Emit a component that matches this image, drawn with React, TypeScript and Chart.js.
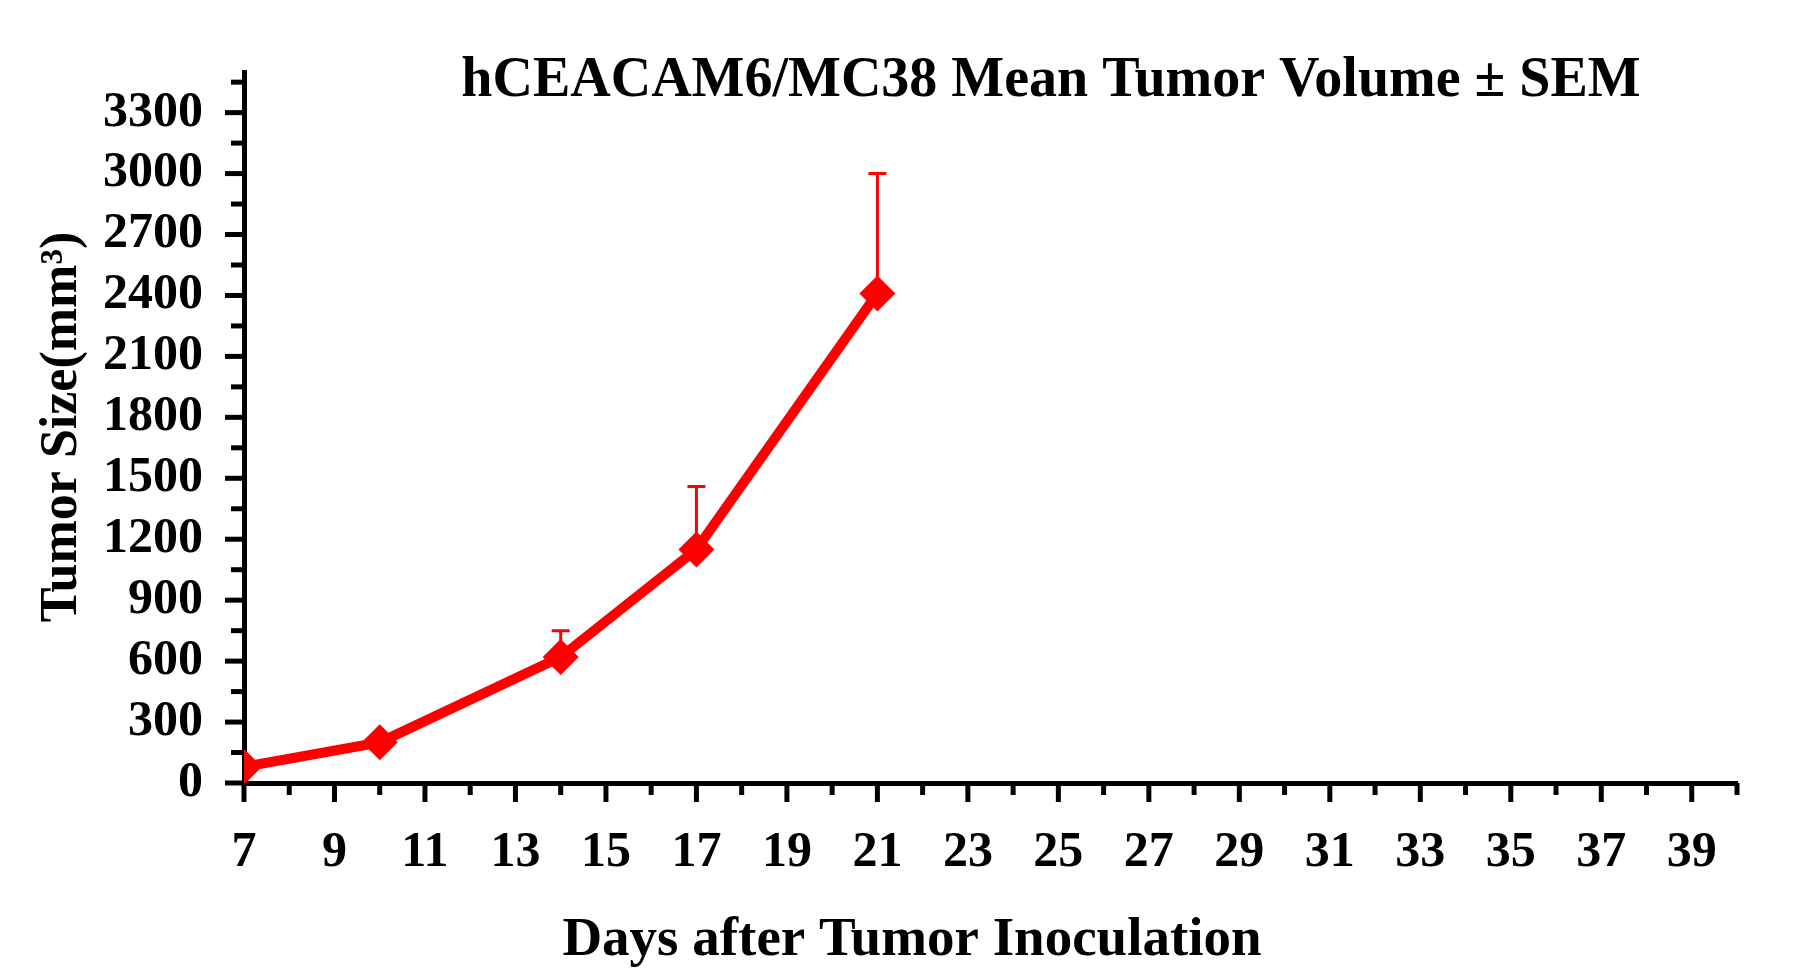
import React, { useEffect, useRef } from "react";
import { Chart, registerables } from "chart.js";
Chart.register(...registerables);

const days = [7, 10, 14, 17, 21];
const meanVolume = [80, 200, 620, 1150, 2410];
const upperError = [0, 0, 750, 1460, 3000];
const xTicks = [7, 9, 11, 13, 15, 17, 19, 21, 23, 25, 27, 29, 31, 33, 35, 37, 39];
const titleText = "hCEACAM6/MC38 Mean Tumor Volume \u00B1 SEM";
const xTitle = "Days after Tumor Inoculation";
const yTitle = "Tumor Size(mm\u00B3)";
const FONT = "'Liberation Serif', 'Times New Roman', serif";

export default function App() {
  const ref = useRef<HTMLCanvasElement>(null);
  useEffect(() => {
    const extras = {
      id: "extras",
      afterDatasetsDraw(chart: any) {
        const ctx = chart.ctx;
        const x = chart.scales.x, y = chart.scales.y;
        const ca = chart.chartArea;
        ctx.save();
        ctx.strokeStyle = "#ff0000";
        ctx.lineWidth = 3;
        days.forEach((d, i) => {
          if (!upperError[i]) return;
          const px = x.getPixelForValue(d);
          const y0 = y.getPixelForValue(meanVolume[i]);
          const y1 = y.getPixelForValue(upperError[i]);
          ctx.beginPath();
          ctx.moveTo(px, y0); ctx.lineTo(px, y1);
          ctx.moveTo(px - 9, y1); ctx.lineTo(px + 9, y1);
          ctx.stroke();
        });
        ctx.strokeStyle = "#000";
        ctx.lineWidth = 5;
        for (let v = 0; v <= 3500; v += 150) {
          const py = y.getPixelForValue(v);
          const major = v % 300 === 0;
          ctx.beginPath();
          ctx.moveTo(ca.left, py); ctx.lineTo(ca.left - (major ? 19 : 13), py);
          ctx.stroke();
        }
        for (let v = 7; v <= 40; v += 1) {
          const px = x.getPixelForValue(v);
          const major = (v - 7) % 2 === 0;
          ctx.beginPath();
          ctx.moveTo(px, ca.bottom); ctx.lineTo(px, ca.bottom + (major ? 19 : 12));
          ctx.stroke();
        }
        ctx.fillStyle = "#000";
        ctx.textAlign = "center";
        ctx.textBaseline = "middle";
        ctx.font = `bold 56px ${FONT}`;
        ctx.fillText(titleText, 1051, 82);
        ctx.font = `bold 55px ${FONT}`;
        ctx.fillText(xTitle, 912, 941);
        ctx.font = `bold 52px ${FONT}`;
        ctx.translate(63, 427);
        ctx.rotate(-Math.PI / 2);
        ctx.fillText(yTitle, 0, 0);
        ctx.restore();
      },
    };
    const chart = new Chart(ref.current!, {
      type: "line",
      data: {
        datasets: [{
          data: days.map((d, i) => ({ x: d, y: meanVolume[i] })),
          borderColor: "#ff0000",
          backgroundColor: "#ff0000",
          borderWidth: 10,
          pointStyle: "rectRot",
          pointRadius: 18,
          pointBorderWidth: 0,
        }],
      },
      options: {
        animation: false,
        responsive: false,
        layout: { padding: { left: 0, top: 72, right: 65, bottom: 0 } },
        plugins: { legend: { display: false }, tooltip: { enabled: false } },
        scales: {
          x: {
            type: "linear", min: 7, max: 40,
            afterBuildTicks: (s: any) => { s.ticks = xTicks.map((v) => ({ value: v })); },
            afterFit: (s: any) => { s.height = 195; },
            grid: { display: false },
            border: { display: true, color: "#000", width: 5 },
            ticks: { padding: 32, color: "#000", callback: (v: any) => String(v), font: { family: FONT, size: 50, weight: "bold" } },
          },
          y: {
            min: 0, max: 3500,
            afterBuildTicks: (s: any) => {
              const t = [];
              for (let v = 0; v <= 3300; v += 300) t.push({ value: v });
              s.ticks = t;
            },
            afterFit: (s: any) => { s.width = 244; },
            grid: { display: false },
            border: { display: true, color: "#000", width: 5 },
            ticks: { padding: 33, color: "#000", callback: (v: any) => String(v), font: { family: FONT, size: 50, weight: "bold" } },
          },
        },
      },
      plugins: [extras],
    } as any);
    return () => chart.destroy();
  }, []);
  return (
    <canvas ref={ref} width={1802} height={978}
      style={{ position: "absolute", left: 0, top: 0, width: 1802, height: 978 }} />
  );
}
